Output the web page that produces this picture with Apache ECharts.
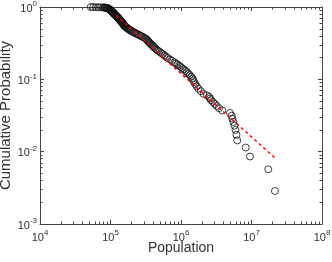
<!DOCTYPE html>
<html>
<head>
<meta charset="utf-8">
<script src="https://cdn.jsdelivr.net/npm/echarts@6/dist/echarts.min.js"></script>
<style>
html,body{margin:0;padding:0;background:#fff;}
#c{width:332px;height:262px;}
</style>
</head>
<body>
<div id="c"></div>
<script>
// Empirical data (population vs cumulative probability P(X >= x))
const population = [
  5.25e4, 5.70e4, 6.19e4, 6.73e4, 7.31e4, 7.94e4, 8.13e4, 8.32e4, 8.51e4, 8.71e4, 8.91e4, 8.96e4,
  9.11e4, 9.26e4, 9.42e4, 9.57e4, 9.73e4, 9.87e4, 9.97e4,
  1.007e5, 1.017e5, 1.027e5, 1.037e5, 1.047e5, 1.058e5, 1.068e5, 1.079e5, 1.090e5, 1.100e5, 1.111e5, 1.122e5,
  1.135e5, 1.149e5, 1.162e5, 1.176e5, 1.190e5, 1.204e5, 1.218e5, 1.232e5, 1.247e5, 1.261e5,
  1.276e5, 1.291e5, 1.306e5, 1.321e5, 1.336e5, 1.351e5, 1.366e5, 1.382e5, 1.398e5, 1.413e5, 1.430e5,
  1.446e5, 1.462e5, 1.479e5, 1.496e5, 1.513e5, 1.530e5, 1.547e5, 1.565e5, 1.583e5, 1.601e5,
  1.633e5, 1.671e5, 1.710e5, 1.750e5, 1.791e5, 1.832e5, 1.879e5, 1.936e5, 2.005e5,
  2.080e5, 2.154e5, 2.229e5, 2.323e5, 2.427e5, 2.529e5, 2.642e5, 2.754e5, 2.871e5, 2.999e5, 3.119e5,
  3.221e5, 3.29e5, 3.37e5, 3.44e5, 3.52e5, 3.60e5, 3.72e5, 3.84e5, 4.00e5, 4.04e5, 4.19e5,
  4.36e5, 4.53e5, 4.72e5, 4.98e5, 5.24e5, 5.52e5, 5.81e5, 6.13e5, 6.44e5, 6.95e5, 7.48e5,
  8.08e5, 8.50e5, 8.94e5, 9.41e5, 9.89e5, 1.040e6, 1.092e6, 1.149e6, 1.208e6, 1.268e6,
  1.331e6, 1.394e6, 1.459e6, 1.497e6, 1.535e6, 1.597e6, 1.676e6, 1.765e6, 1.915e6, 2.09e6,
  2.339e6, 2.51e6, 2.58e6, 2.67e6, 2.84e6, 3.03e6, 3.21e6, 3.46e6, 3.85e6, 4.95e6, 5.24e6,
  5.35e6, 5.52e6, 5.74e6, 5.93e6, 6.12e6, 6.28e6, 8.28e6, 9.53e6, 1.73e7, 2.15e7
];
const probability = [
  1.0, 0.9971, 0.9943, 0.9914, 0.9886, 0.9857, 0.9829, 0.98, 0.9771, 0.9743, 0.9714, 0.9686,
  0.96, 0.9514, 0.9429, 0.9343, 0.9257, 0.9171, 0.9086,
  0.9, 0.8914, 0.8829, 0.8743, 0.8657, 0.8571, 0.8486, 0.84, 0.8314, 0.8229, 0.8143, 0.8057,
  0.7971, 0.7886, 0.78, 0.7714, 0.7629, 0.7543, 0.7457, 0.7371, 0.7286, 0.72,
  0.7114, 0.7029, 0.6943, 0.6857, 0.6771, 0.6686, 0.66, 0.6514, 0.6429, 0.6343, 0.6257,
  0.6171, 0.6086, 0.6, 0.5914, 0.5829, 0.5743, 0.5657, 0.5571, 0.5486, 0.54,
  0.5314, 0.5229, 0.5143, 0.5057, 0.4971, 0.4886, 0.48, 0.4714, 0.4629,
  0.4543, 0.4457, 0.4371, 0.4286, 0.42, 0.4114, 0.4029, 0.3943, 0.3857, 0.3771, 0.3686,
  0.36, 0.3514, 0.3429, 0.3343, 0.3257, 0.3171, 0.3086, 0.3, 0.2914, 0.2829, 0.2743,
  0.2657, 0.2571, 0.2486, 0.24, 0.2314, 0.2229, 0.2143, 0.2057, 0.1971, 0.1886, 0.18,
  0.1714, 0.1657, 0.16, 0.1543, 0.1486, 0.1429, 0.1371, 0.1314, 0.1257, 0.12,
  0.1143, 0.1086, 0.1029, 0.0971, 0.0914, 0.0857, 0.08, 0.0743, 0.0686, 0.0629,
  0.06, 0.0571, 0.0543, 0.0514, 0.0486, 0.0457, 0.0429, 0.04, 0.0371, 0.0343, 0.0314,
  0.0286, 0.0257, 0.0229, 0.02, 0.0171, 0.0143, 0.0114, 0.00857, 0.00571, 0.00286
];
// Power-law fit line (end points)
const fitPopulation = [1.2e5, 2.18e7];
const fitProbability = [0.77, 0.0081];

// Axis ticks
const xMajorTicks = [1e4, 1e5, 1e6, 1e7, 1e8];
const yMajorTicks = [1e-3, 1e-2, 1e-1, 1];
const minorMultipliers = [2, 3, 4, 5, 6, 7, 8, 9];

function minorTicks(majors) {
  const out = [];
  for (let i = 0; i < majors.length - 1; i++) {
    minorMultipliers.forEach(m => out.push(majors[i] * m));
  }
  return out;
}
const xMinorTicks = minorTicks(xMajorTicks);
const yMinorTicks = minorTicks(yMajorTicks);

const FONT = "'Liberation Sans', Arial, Helvetica, sans-serif";
const AX = '#444';
const TXT = '#333';

function expLabel(v) {
  const e = Math.round(Math.log10(v));
  return '{b|10}{s|' + e + '}';
}
const richLab = {
  b: { fontSize: 11, fontFamily: FONT, color: TXT, verticalAlign: 'bottom' },
  s: { fontSize: 8, fontFamily: FONT, color: TXT, verticalAlign: 'bottom', padding: [0, 0, 6, 0] }
};

function xAxisDef(pos, major, showLabel) {
  return {
    type: 'log', logBase: 10, min: 1e4, max: 1e8, position: pos,
    gridIndex: 0,
    axisLine: { show: major, onZero: false, lineStyle: { color: AX, width: 1 } },
    axisTick: { show: true, inside: true, length: major ? 4 : 2.5,
      customValues: major ? xMajorTicks : xMinorTicks, lineStyle: { color: AX, width: 1 } },
    axisLabel: { show: showLabel, customValues: xMajorTicks, formatter: expLabel, rich: richLab, margin: 5 },
    splitLine: { show: false }, minorTick: { show: false },
    name: showLabel ? 'Population' : '', nameLocation: 'middle', nameGap: 17, nameMoveOverlap: false,
    nameTextStyle: { fontSize: 14, fontFamily: FONT, color: TXT, verticalAlign: 'top' }
  };
}
function yAxisDef(pos, major, showLabel) {
  return {
    type: 'log', logBase: 10, min: 1e-3, max: 1, position: pos,
    gridIndex: 0,
    axisLine: { show: major, onZero: false, lineStyle: { color: AX, width: 1 } },
    axisTick: { show: true, inside: true, length: major ? 4 : 2.5,
      customValues: major ? yMajorTicks : yMinorTicks, lineStyle: { color: AX, width: 1 } },
    axisLabel: { show: showLabel, customValues: yMajorTicks, formatter: expLabel, rich: richLab, margin: 3 },
    splitLine: { show: false }, minorTick: { show: false },
    name: showLabel ? 'Cumulative Probability' : '', nameLocation: 'middle', nameGap: 27, nameMoveOverlap: false,
    nameTextStyle: { fontSize: 15, fontFamily: FONT, color: TXT }
  };
}

const chart = echarts.init(document.getElementById('c'), null, { renderer: 'canvas' });
chart.setOption({
  animation: false,
  backgroundColor: '#fff',
  grid: { left: 40, right: 10, top: 7, bottom: 38, containLabel: false, outerBoundsMode: 'none' },
  xAxis: [
    xAxisDef('bottom', true, true),
    xAxisDef('bottom', false, false),
    xAxisDef('top', true, false),
    xAxisDef('top', false, false)
  ],
  yAxis: [
    yAxisDef('left', true, true),
    yAxisDef('left', false, false),
    yAxisDef('right', true, false),
    yAxisDef('right', false, false)
  ],
  series: [
    {
      type: 'scatter', xAxisIndex: 0, yAxisIndex: 0,
      data: population.map((p, i) => [p, probability[i]]),
      symbol: 'circle', symbolSize: 7,
      itemStyle: { color: 'rgba(0,0,0,0)', borderColor: '#111', borderWidth: 1 },
      z: 2
    },
    {
      type: 'line', xAxisIndex: 0, yAxisIndex: 0,
      data: fitPopulation.map((p, i) => [p, fitProbability[i]]),
      showSymbol: false, symbol: 'none',
      lineStyle: { color: '#ff0000', width: 1.5, type: [3, 3] },
      z: 3
    }
  ]
});
</script>
</body>
</html>
